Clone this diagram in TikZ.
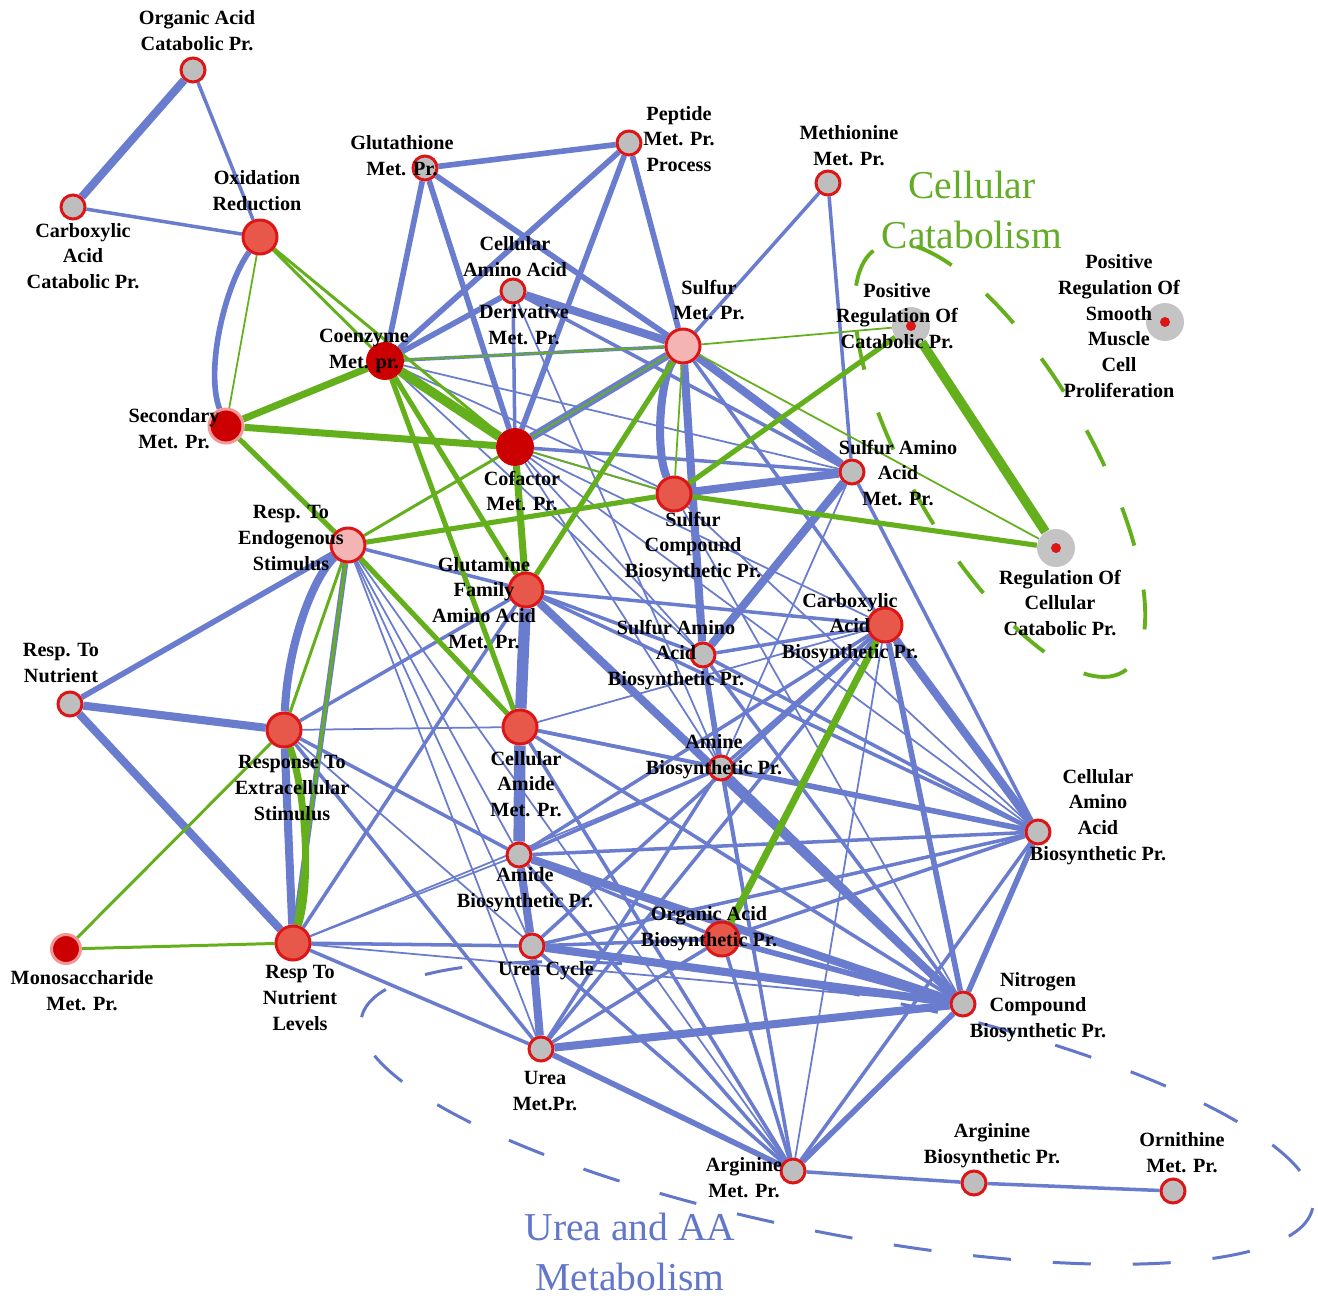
\documentclass[tikz,border=0pt]{standalone}
\usepackage{fontspec}
\setmainfont{Liberation Serif}
\pgfdeclarelayer{bg}
\pgfdeclarelayer{edges}
\pgfsetlayers{bg,edges,main}
\definecolor{eb}{RGB}{106,124,206}
\definecolor{eg}{RGB}{100,176,28}
\definecolor{nred}{RGB}{220,22,22}
\definecolor{ngray}{RGB}{190,190,190}
\definecolor{hgray}{RGB}{196,196,196}
\definecolor{nsal}{RGB}{232,88,74}
\definecolor{ndark}{RGB}{204,0,0}
\definecolor{npink}{RGB}{245,180,180}
\definecolor{nhalo}{RGB}{242,150,150}
\definecolor{tgreen}{RGB}{100,172,40}
\definecolor{tblue}{RGB}{98,118,202}
\begin{document}
\begin{tikzpicture}[x=0.02cm,y=-0.02cm,
 gn/.style={circle,draw=nred,fill=ngray,line width=1.7pt,minimum size=0.48cm,inner sep=0pt},
 sn/.style={circle,draw=nred,fill=nsal,line width=1.7pt,minimum size=0.68cm,inner sep=0pt},
 dn/.style={circle,draw=ndark,fill=ndark,line width=0.5pt,minimum size=0.74cm,inner sep=0pt},
 pn/.style={circle,draw=nred,fill=npink,line width=1.7pt,minimum size=0.68cm,inner sep=0pt},
 hn/.style={circle,draw=nhalo,fill=ndark,line width=1.7pt,minimum size=0.68cm,inner sep=0pt},
 an/.style={circle,fill=hgray,minimum size=0.76cm,inner sep=0pt,
   path picture={\fill[nred] (path picture bounding box.center) circle (0.1cm);}},
 lab/.style={font=\bfseries\fontsize{11.5}{14.7}\selectfont,align=center,inner sep=0pt},
 grp/.style={font=\fontsize{22.5}{28.5}\selectfont,align=center,inner sep=0pt},
 b1/.style={draw=eb,line width=1.0pt},
 b2/.style={draw=eb,line width=2.0pt},
 b3/.style={draw=eb,line width=3.2pt},
 b4/.style={draw=eb,line width=4.6pt},
 b5/.style={draw=eb,line width=6.5pt},
 g1/.style={draw=eg,line width=1.0pt},
 g2/.style={draw=eg,line width=1.7pt},
 g3/.style={draw=eg,line width=2.9pt},
 g4/.style={draw=eg,line width=4pt},
 g5/.style={draw=eg,line width=5.4pt},
 ellb/.style={draw=tblue,line width=1.7pt,dash pattern=on 0.76cm off 0.84cm},
 ellg/.style={draw=eg,line width=2.2pt,dash pattern=on 0.8cm off 0.9cm}]
\begin{pgfonlayer}{bg}
\fill[white] (0,0) rectangle (1318,1301);
\end{pgfonlayer}
\useasboundingbox (0,0) rectangle (1318,1301);

% nodes
\node[gn] (oacp) at (193,70) {};
\node[gn] (cacp) at (73,207) {};
\node[sn] (oxr) at (260,237) {};
\node[gn] (glut) at (425,168) {};
\node[gn] (pep) at (629,143) {};
\node[gn] (meth) at (828,183) {};
\node[gn] (caad) at (513,291) {};
\node[dn] (coenz) at (385,361) {};
\node[pn] (sulf) at (683,346) {};
\node[an] (prc) at (911,326) {};
\node[an] (prs) at (1165,322) {};
\node[hn] (sec) at (226,426) {};
\node[dn] (cof) at (515,447) {};
\node[gn] (saam) at (852,472) {};
\node[sn] (scb) at (674,494) {};
\node[an] (rcc) at (1056,548) {};
\node[pn] (res) at (348,545) {};
\node[sn] (gfaa) at (526,590) {};
\node[sn] (cabp) at (885,625) {};
\node[gn] (saabp) at (703,655) {};
\node[gn] (rnut) at (70,704) {};
\node[sn] (rex) at (284,730) {};
\node[sn] (cam) at (520,727) {};
\node[gn] (amine) at (721,768) {};
\node[gn] (caabp) at (1038,832) {};
\node[gn] (amide) at (519,855) {};
\node[sn] (oabp) at (722,939) {};
\node[hn,minimum size=0.58cm] (mono) at (66,949) {};
\node[sn] (rnl) at (293,943) {};
\node[gn] (ucyc) at (532,946) {};
\node[gn] (ncbp) at (963,1004) {};
\node[gn] (umet) at (541,1049) {};
\node[gn] (argm) at (793,1171) {};
\node[gn] (argb) at (974,1183) {};
\node[gn] (orn) at (1173,1191) {};

\begin{pgfonlayer}{edges}
% dashed group outlines
\draw[ellg,rotate around={-60:(1000,460)}] (1000,460) ellipse (245 and 90);
\draw[ellb,rotate around={-11.3:(837,1113)}] (837,1113) ellipse (485 and 120);
% blue edges
\foreach \a/\b in {gfaa/cam,cam/amide}
  \draw[b5] (\a)--(\b);
\foreach \a/\b in {oacp/cacp,sulf/saam,sulf/saabp,amide/ucyc,ucyc/umet,scb/saam,saam/saabp,
  umet/ncbp,gfaa/ncbp,cof/sulf,caad/sulf,cabp/caabp,rnut/rex,rnut/rnl,rex/rnl,amide/ncbp,ucyc/ncbp}
  \draw[b4] (\a)--(\b);
\foreach \a/\b in {glut/pep,glut/cof,glut/sulf,pep/coenz,pep/cof,pep/sulf,coenz/caad,rnut/res,
  amine/caabp,amine/ncbp,saabp/amine,oabp/ncbp,cabp/ncbp,umet/argm,ncbp/argm,caabp/ncbp,
  glut/coenz,res/rnl}
  \draw[b3] (\a)--(\b);
\foreach \a/\b in {oacp/oxr,cacp/oxr,meth/sulf,meth/saam,caad/cof,caad/saam,coenz/sulf,coenz/cof,
  cof/saam,res/gfaa,gfaa/cabp,gfaa/saabp,gfaa/caabp,gfaa/rex,gfaa/rnl,cabp/saabp,cabp/amine,
  cabp/umet,saabp/caabp,saabp/ncbp,saam/caabp,rex/amide,rex/umet,cam/caabp,cam/ncbp,cam/argm,
  amine/argm,amine/umet,amine/amide,amine/cam,caabp/argm,caabp/ucyc,caabp/amide,caabp/oabp,
  amide/argm,amide/oabp,ucyc/argm,ucyc/rnl,ucyc/oabp,umet/rnl,umet/oabp,oabp/argm,argm/argb,
  argb/orn,sulf/cabp,cabp/ucyc,cabp/amide}
  \draw[b2] (\a)--(\b);
\foreach \a/\b in {caad/amine,coenz/sec,coenz/saam,coenz/scb,coenz/saabp,cof/scb,cof/caabp,
  cof/saabp,cof/cabp,cof/amine,saam/amine,scb/caabp,scb/ncbp,res/amide,res/ucyc,res/umet,
  res/argm,rex/cam,rex/argm,cabp/argm,cabp/cam,saabp/argm,rnl/amide,rnl/amine,rnl/ncbp}
  \draw[b1] (\a)--(\b);
\draw[b3] (oxr) .. controls (225,285) and (205,370) .. (sec);
\draw[b4] (res) .. controls (315,575) and (288,640) .. (rex);
\draw[b4] (sulf) .. controls (660,380) and (655,450) .. (scb);
% green edges
\foreach \a/\b in {coenz/cof,prc/rcc}
  \draw[g5] (\a)--(\b);
\foreach \a/\b in {sec/coenz,sec/cof,cof/gfaa,cabp/oabp}
  \draw[g4] (\a)--(\b);
\foreach \a/\b in {sec/res,coenz/gfaa,coenz/cam,res/cam,sulf/gfaa,scb/prc,scb/rcc,res/scb}
  \draw[g3] (\a)--(\b);
\foreach \a/\b in {oxr/coenz,oxr/cof,res/cof,res/rex,res/rnl,rex/mono,mono/rnl}
  \draw[g2] (\a)--(\b);
\foreach \a/\b in {oxr/sec,coenz/sulf,cof/sulf,cof/scb,sulf/scb,sulf/prc,sulf/rcc}
  \draw[g1] (\a)--(\b);
\draw[g4] (rex) .. controls (305,790) and (312,880) .. (rnl);
\end{pgfonlayer}

% labels
\node[lab] (oacp-l) at (197,31) {Organic Acid\\Catabolic Pr.};
\node[lab] (cacp-l) at (83,256) {Carboxylic\\Acid\\Catabolic Pr.};
\node[lab] (oxr-l) at (257,191) {Oxidation\\Reduction};
\node[lab] (glut-l) at (402,156) {Glutathione\\Met. Pr.};
\node[lab] (pep-l) at (679,139) {Peptide\\Met. Pr.\\Process};
\node[lab] (meth-l) at (849,146) {Methionine\\Met. Pr.};
\node[lab] (caad-l1) at (515,257) {Cellular\\Amino Acid};
\node[lab] (caad-l2) at (524,325) {Derivative\\Met. Pr.};
\node[lab] (coenz-l) at (364,351) {Coenzyme\\Met. pr.};
\node[lab] (sulf-l) at (709,300) {Sulfur\\Met. Pr.};
\node[lab] (prc-l) at (897,316) {Positive\\Regulation Of\\Catabolic Pr.};
\node[lab] (prs-l) at (1119,326) {Positive\\Regulation Of\\Smooth\\Muscle\\Cell\\Proliferation};
\node[lab] (sec-l) at (174,429) {Secondary\\Met. Pr.};
\node[lab] (cof-l) at (522,491) {Cofactor\\Met. Pr.};
\node[lab] (saam-l) at (898,473) {Sulfur Amino\\Acid\\Met. Pr.};
\node[lab] (scb-l) at (693,547) {Sulfur\\Compound\\Biosynthetic Pr.};
\node[lab] (rcc-l) at (1060,603) {Regulation Of\\Cellular\\Catabolic Pr.};
\node[lab] (res-l) at (291,538) {Resp. To\\Endogenous\\Stimulus};
\node[lab] (gfaa-l) at (484,603) {Glutamine\\Family\\Amino Acid\\Met. Pr.};
\node[lab] (cabp-l) at (850,628) {Carboxylic\\Acid\\Biosynthetic Pr.};
\node[lab] (saabp-l) at (676,655) {Sulfur Amino\\Acid\\Biosynthetic Pr.};
\node[lab] (rnut-l) at (61,663) {Resp. To\\Nutrient};
\node[lab] (rex-l) at (292,788) {Response To\\Extracellular\\Stimulus};
\node[lab] (cam-l) at (526,784) {Cellular\\Amide\\Met. Pr.};
\node[lab] (amine-l) at (714,757) {Amine\\Biosynthetic Pr.};
\node[lab] (caabp-l) at (1098,817) {Cellular\\Amino\\Acid\\Biosynthetic Pr.};
\node[lab] (amide-l) at (525,890) {Amide\\Biosynthetic Pr.};
\node[lab] (oabp-l) at (709,929) {Organic Acid\\Biosynthetic Pr.};
\node[lab] (mono-l) at (82,991) {Monosaccharide\\Met. Pr.};
\node[lab] (rnl-l) at (300,998) {Resp To\\Nutrient\\Levels};
\node[lab] (ucyc-l) at (546,971) {Urea Cycle};
\node[lab] (ncbp-l) at (1038,1007) {Nitrogen\\Compound\\Biosynthetic Pr.};
\node[lab] (umet-l) at (545,1091) {Urea\\Met.Pr.};
\node[lab] (argm-l) at (744,1178) {Arginine\\Met. Pr.};
\node[lab] (argb-l) at (992,1146) {Arginine\\Biosynthetic Pr.};
\node[lab] (orn-l) at (1182,1153) {Ornithine\\Met. Pr.};
% group titles
\node[grp,text=tgreen] (cc-t) at (972,210) {Cellular\\Catabolism};
\node[grp,text=tblue] (ua-t) at (630,1252) {Urea and AA\\Metabolism};
\end{tikzpicture}
\end{document}
